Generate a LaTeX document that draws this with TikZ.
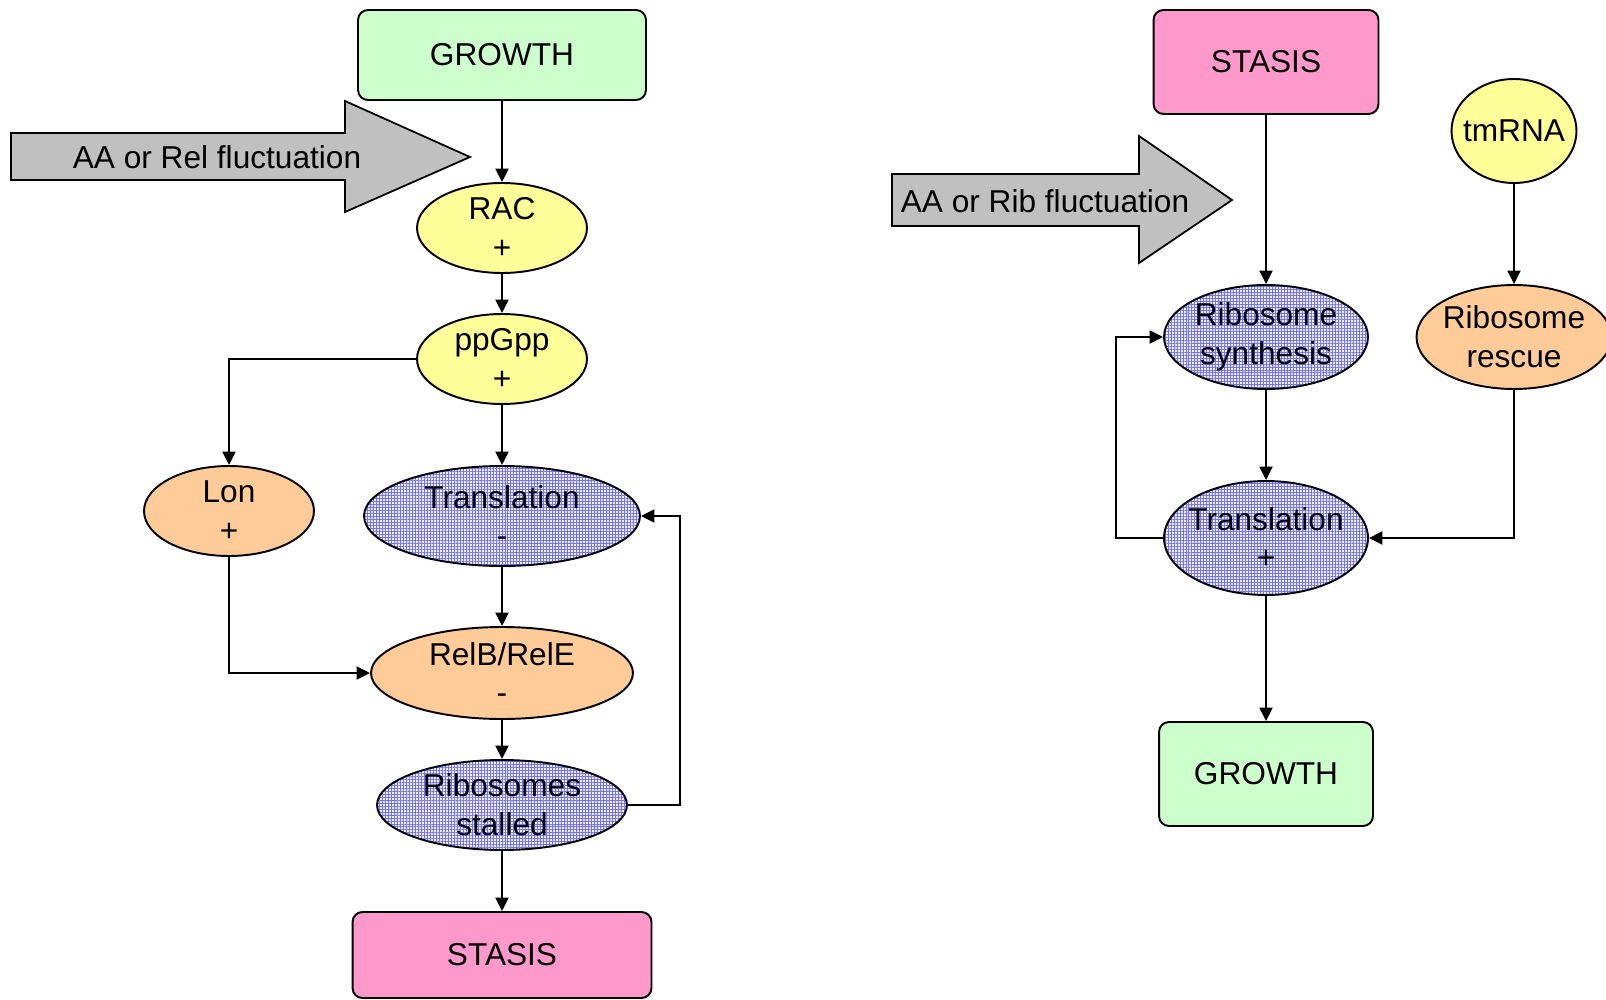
\documentclass[tikz,border=0pt]{standalone}
\usepackage{fontspec}
\setmainfont{Liberation Sans}
\usepackage{tikz}
\usetikzlibrary{shapes.geometric,arrows.meta,patterns.meta}
\definecolor{vertpale}{RGB}{204,255,204}
\definecolor{rosestase}{RGB}{255,153,204}
\definecolor{jaune}{RGB}{255,255,153}
\definecolor{abricot}{RGB}{255,204,153}
\definecolor{gris}{RGB}{192,192,192}
\definecolor{fondribo}{RGB}{238,238,255}
\definecolor{bleuribo}{RGB}{115,115,250}
\newcommand{\taille}{\fontsize{18}{22}\selectfont}
\tikzstyle{bord}=[line width=1.1pt]
\tikzstyle{etat}=[bord,draw,rectangle,rounded corners=0.2cm,font=\taille]
\tikzstyle{ovale}=[bord,draw,ellipse,inner sep=0pt,inner xsep=-0.3cm,align=center,font=\taille]
\tikzstyle{ribo}=[ovale,preaction={fill=fondribo},preaction={pattern={Hatch[angle=0,distance=1.7pt,line width=0.3pt]},pattern color=bleuribo}]
\tikzstyle{lien}=[bord,-{Triangle[length=0.27cm,width=0.26cm]}]
\tikzstyle{grosse}=[line width=1pt,draw,fill=gris]

\begin{document}
\begin{tikzpicture}[x=0.02cm,y=-0.02cm]

\useasboundingbox[fill=white] (0,0) rectangle (1606,1000);

          \begin{scope}[shift={(502,0)}]

  \draw[grosse] (-491,133) -- (-157,133) -- (-157,101) -- (-32,157) -- (-157,212) -- (-157,180) -- (-491,180) -- cycle;
  \node[font=\taille] (fluctA) at (-285,157) {AA or Rel fluctuation};

  \node[etat,fill=vertpale,minimum width=5.76cm,minimum height=1.8cm] (growthA) at (0,55) {GROWTH};
  \node[ovale,fill=jaune,minimum width=3.4cm,minimum height=1.8cm] (racA) at (0,228) {RAC\\+};
  \node[ovale,fill=jaune,minimum width=3.4cm,minimum height=1.8cm] (ppgppA) at (0,359) {ppGpp\\+};
  \node[ovale,fill=abricot,minimum width=3.4cm,minimum height=1.8cm] (lonA) at (-273,511) {Lon\\+};
  \node[ribo,minimum width=5.52cm,minimum height=2cm] (transA) at (0,516) {Translation\\-};
  \node[ovale,fill=abricot,minimum width=5.24cm,minimum height=1.84cm] (relbA) at (0,673) {RelB/RelE\\-};
  \node[ribo,minimum width=5cm,minimum height=1.8cm] (ribA) at (0,805) {Ribosomes\\stalled};
  \node[etat,fill=rosestase,minimum width=5.98cm,minimum height=1.72cm] (stasisA) at (0,955) {STASIS};
  \coordinate (retourA) at (178,805);

  \draw[lien] (growthA) -- (racA);
  \draw[lien] (racA) -- (ppgppA);
  \draw[lien] (ppgppA) -- (transA);
  \draw[lien] (ppgppA.west) -| (lonA.north);
  \draw[lien] (transA) -- (relbA);
  \draw[lien] (lonA.south) |- (relbA.west);
  \draw[lien] (relbA) -- (ribA);
  \draw[lien] (ribA) -- (stasisA);
  \draw[lien] (ribA.east) -- (retourA) |- (transA.east);

  \end{scope}

          \begin{scope}[shift={(1266,0)}]

  \draw[grosse] (-374,174) -- (-127,174) -- (-127,136) -- (-34,200) -- (-127,263) -- (-127,226) -- (-374,226) -- cycle;
  \node[font=\taille] (fluctB) at (-221,201) {AA or Rib fluctuation};

  \node[etat,fill=rosestase,minimum width=4.5cm,minimum height=2.08cm] (stasisB) at (0,62) {STASIS};
  \node[ovale,fill=jaune,minimum width=2.5cm,minimum height=2.08cm] (tmrna) at (248,131) {tmRNA};
  \node[ribo,minimum width=4.08cm,minimum height=2.08cm] (synthB) at (0,337) {Ribosome\\synthesis};
  \node[ovale,fill=abricot,minimum width=3.9cm,minimum height=2.08cm] (rescue) at (248,337) {Ribosome\\rescue};
  \node[ribo,minimum width=4.08cm,minimum height=2.28cm] (transB) at (0,538) {Translation\\+};
  \node[etat,fill=vertpale,minimum width=4.28cm,minimum height=2.08cm] (growthB) at (0,774) {GROWTH};
  \coordinate (boucleB) at (-150,538);

  \draw[lien] (stasisB) -- (synthB);
  \draw[lien] (tmrna) -- (rescue);
  \draw[lien] (synthB) -- (transB);
  \draw[lien] (transB.west) -- (boucleB) |- (synthB.west);
  \draw[lien] (rescue.south) |- (transB.east);
  \draw[lien] (transB) -- (growthB);

\end{scope}

      \end{tikzpicture}
\end{document}
